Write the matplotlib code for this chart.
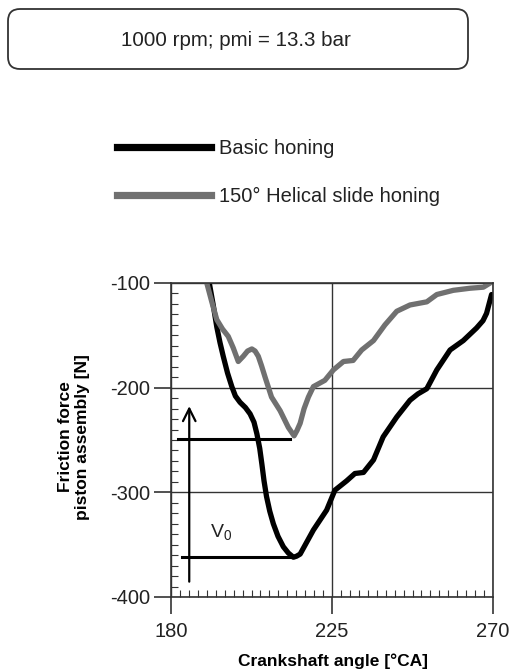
import matplotlib
matplotlib.use("Agg")
import matplotlib.pyplot as plt
from matplotlib.lines import Line2D
from matplotlib.patches import FancyBboxPatch

plt.rcParams['font.family'] = ['Liberation Sans', 'DejaVu Sans']

# basic honing (black)
basic_x = [190.7, 191.8, 192.8, 193.7, 194.6, 195.8, 197.0, 198.0, 199.3, 200.8,
           202.1, 203.2, 204.0, 204.8, 205.4, 206.0, 206.7, 207.6, 208.6, 209.9,
           211.4, 212.8, 214.2, 215.1, 216.1, 219.8, 223.5, 225.8, 229.1, 231.4,
           233.8, 236.6, 239.3, 243.1, 246.8, 249.0, 251.5, 254.3, 258.0, 261.7,
           265.4, 267.2, 268.2, 269.6]
basic_y = [-100, -121, -142, -157, -170, -186, -199, -208, -214, -219,
           -225, -233, -244, -258, -273, -289, -304, -318, -330, -342,
           -352, -358, -362, -361, -359, -336, -317, -298, -289, -282,
           -281, -269, -247, -228, -212, -206, -201, -183, -164, -155,
           -143, -136, -129, -111]

# 150 deg helical slide honing (grey)
helical_x = [190.0, 191.4, 192.8, 194.4, 196.0, 197.4, 198.8, 200.2, 201.4, 202.6,
             203.5, 204.4, 205.3, 206.3, 208.1, 210.5, 212.8, 214.4, 215.2, 216.1,
             217.2, 218.4, 219.8, 223.0, 225.4, 228.2, 230.9, 233.3, 236.6, 239.8,
             243.1, 246.8, 251.5, 254.3, 258.9, 263.6, 267.3, 269.2]
helical_y = [-100, -118, -135, -144, -151, -162, -175, -170, -165, -163,
             -165, -170, -179, -190, -209, -222, -238, -246, -241, -234,
             -220, -209, -199, -193, -183, -175, -174, -164, -155, -140,
             -127, -121, -118, -111, -107, -105, -104, -100]

labels = ['Basic honing', '150° Helical slide honing']
yticks = [-100, -200, -300, -400]
xticks = [180, 225, 270]

fig = plt.figure(figsize=(5.09, 6.72), dpi=100)

# header box drawn in pixel units on an overlay
ov = fig.add_axes([0, 0, 1, 1])
ov.set_xlim(0, 509)
ov.set_ylim(672, 0)
ov.axis('off')
box = FancyBboxPatch((8, 9), 460, 60, boxstyle="round,pad=0,rounding_size=12",
                     fc='white', ec='#333333', lw=1.3)
ov.add_patch(box)
ov.text(236, 41, '1000 rpm; pmi = 13.3 bar', ha='center', va='center', fontsize=14.8, color='#222222')

ax = fig.add_axes([171/509, 1 - 597/672, 322/509, 314/672])
ax.plot(basic_x, basic_y, color='black', lw=3.8, solid_capstyle='round', solid_joinstyle='round')
ax.plot(helical_x, helical_y, color='#707070', lw=3.8, solid_capstyle='round', solid_joinstyle='round')

ax.set_xlim(180, 270)
ax.set_ylim(-400, -100)
ax.set_xticks(xticks)
ax.set_xticklabels([str(v) for v in xticks])
ax.set_yticks(yticks)
ax.set_yticklabels([str(v) for v in yticks])
ax.set_xticks([180 + 2.5 * i for i in range(37)], minor=True)
ax.set_yticks([-400 + 10 * i for i in range(31)], minor=True)
ax.tick_params(which='major', direction='out', length=12, width=1.2, labelsize=14.5,
               color='#333333', labelcolor='#222222')
ax.tick_params(axis='x', which='major', pad=6)
ax.tick_params(axis='y', which='major', pad=3)
ax.tick_params(which='minor', direction='in', length=5, width=0.8, color='#333333')
ax.grid(True, which='major', color='#333333', lw=1)
for s in ax.spines.values():
    s.set_color('#333333')
    s.set_linewidth(1.2)

ax.set_xlabel('Crankshaft angle [°CA]', fontsize=12.5, fontweight='bold')
ax.xaxis.set_label_coords((333 - 171) / 322, -(653 - 597) / 314)
ax.xaxis.label.set_va('top')
ax.set_ylabel('Friction force\npiston assembly [N]', fontsize=12.5, fontweight='bold')
ax.yaxis.set_label_coords((90 - 171) / 322, 0.51)

# V0 annotation
ax.plot([182.0, 213.3], [-249, -249], color='black', lw=2.2)
ax.plot([183.0, 214.0], [-362, -362], color='black', lw=2.2)
ax.annotate('', xy=(185.1, -215), xytext=(185.1, -388),
            arrowprops=dict(arrowstyle='->,head_length=0.9,head_width=0.45', color='black', lw=1.6))
ax.text(194, -339, r'V$_\mathregular{0}$', fontsize=14, ha='center', va='center', color='#222222')

handles = [Line2D([], [], color='black', lw=5.2), Line2D([], [], color='#707070', lw=5.2)]
fig.legend(handles, labels, loc='upper left', bbox_to_anchor=(117/509, 1 - 139/672),
           frameon=False, fontsize=14.5, handlelength=4.65, handletextpad=0.4,
           labelspacing=1.42, borderpad=0, borderaxespad=0, labelcolor='#222222')

fig.savefig('out.png', dpi=100)
